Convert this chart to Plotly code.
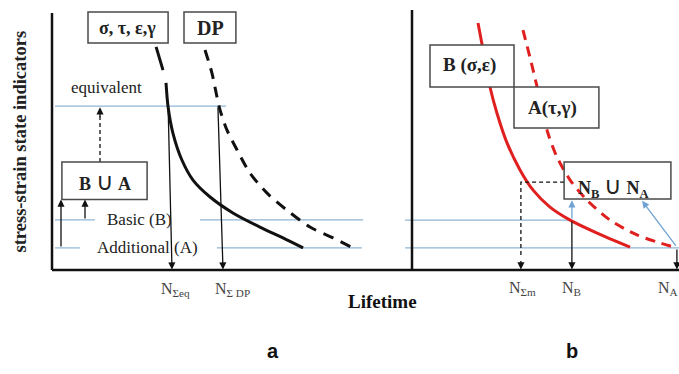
import plotly.graph_objects as go

W, H = 679, 374

# ---------------- data (schematic units) ----------------
# Panel a: equivalent stress-strain indicator (solid) and DP (dashed)
a_solid_top_x = [3.47, 3.70]
a_solid_top_y = [8.68, 7.78]
a_solid_x = [3.80, 3.87, 4.03, 4.33, 4.70, 5.27, 6.03, 6.93, 7.70, 8.37]
a_solid_y = [7.28, 6.34, 5.33, 4.28, 3.50, 2.84, 2.22, 1.67, 1.25, 0.86]
a_dash_x = [5.10, 5.33, 5.50, 5.60, 5.83, 6.17, 6.60, 7.17, 7.83, 8.60, 9.37, 10.03]
a_dash_y = [8.56, 7.67, 6.73, 6.23, 5.45, 4.67, 3.77, 2.99, 2.33, 1.67, 1.25, 0.86]
a_levels = {"equivalent": 6.38, "basic": 1.95, "additional": 0.86}
a_tick_x = [4.1, 6.0]
a_tick_text = ["N<sub>Σeq</sub>", "N<sub>Σ DP</sub>"]

# Panel b: basic (solid red) and additional (dashed red)
b_solid_x = [2.20, 2.37, 2.60, 2.83, 3.17, 3.60, 4.03, 4.60, 5.27, 6.17, 7.27]
b_solid_y = [9.50, 8.46, 7.04, 6.04, 4.88, 3.85, 3.08, 2.42, 1.92, 1.42, 0.88]
b_dash_x = [3.70, 3.93, 4.17, 4.53, 4.83, 5.27, 5.83, 6.60, 7.50, 8.27, 8.83]
b_dash_y = [9.23, 8.19, 7.04, 5.27, 4.35, 3.46, 2.69, 1.92, 1.35, 1.04, 0.85]
b_levels = {"basic": 1.92, "additional": 0.85, "mixed": 3.38}
b_tick_x = [3.67, 5.33, 8.52]
b_tick_text = ["N<sub>Σm</sub>", "N<sub>B</sub>", "N<sub>A</sub>"]

# ---------------- styles ----------------
BLK = "#111111"
RED = "#e0201f"
BLUE = "#8fb5d6"
ABLUE = "#6fa3d3"
BOXC = "#4a4a4a"
SERIF = "Liberation Serif, Times New Roman, serif"
TXT = "#222222"

fig = go.Figure()

def line(x, y, color=BLK, width=2.5, dash=None, xa="x", ya="y", shape="linear"):
    fig.add_trace(go.Scatter(x=x, y=y, mode="lines", xaxis=xa, yaxis=ya,
                             line=dict(color=color, width=width, dash=dash, shape=shape,
                                       smoothing=0.8),
                             hoverinfo="skip", showlegend=False))

def arrow(x0, y0, x1, y1, color=BLK, width=1.3, xr="x", yr="y"):
    fig.add_annotation(x=x1, y=y1, ax=x0, ay=y0, xref=xr, yref=yr, axref=xr, ayref=yr,
                       text="", showarrow=True, arrowhead=2, arrowsize=1.1,
                       arrowwidth=width, arrowcolor=color)

def box(x0, x1, y0, y1, xr="x", yr="y", fill="white"):
    fig.add_shape(type="rect", x0=x0, x1=x1, y0=y0, y1=y1, xref=xr, yref=yr,
                  line=dict(color=BOXC, width=1.5), fillcolor=fill, layer="above")

def text(x, y, s, size=15, xr="x", yr="y", color=TXT, family=SERIF, angle=0):
    fig.add_annotation(x=x, y=y, xref=xr, yref=yr, text=s, showarrow=False,
                       textangle=angle, font=dict(family=family, size=size, color=color))

# ---------------- panel a ----------------
# blue levels
line([0.1, 5.8], [a_levels["equivalent"]] * 2, BLUE, 1.2)
line([0.1, 1.43], [a_levels["basic"]] * 2, BLUE, 1.2)
line([4.93, 10.37], [a_levels["basic"]] * 2, BLUE, 1.2)
line([0.1, 0.93], [a_levels["additional"]] * 2, BLUE, 1.2)
line([5.5, 10.33], [a_levels["additional"]] * 2, BLUE, 1.2)
# curves
line(a_solid_top_x, a_solid_top_y, BLK, 3)
line(a_solid_x, a_solid_y, BLK, 3, shape="spline")
line(a_dash_x, a_dash_y, BLK, 3, dash="11px,8px", shape="spline")
# axes
line([0, 0], [0, 10], BLK, 2.5)
line([0, 12], [0, 0], BLK, 2.5)
# dashed arrow to equivalent
line([1.6, 1.6], [4.2, 6.0], BLK, 1.3, dash="4px,3px")
arrow(1.6, 5.9, 1.6, a_levels["equivalent"] - 0.05)
# arrows up to union box
arrow(0.3, a_levels["additional"], 0.3, 2.74)
arrow(1.1, a_levels["basic"], 1.1, 2.74)
# lifetime arrows
arrow(3.87, a_levels["equivalent"], 4.0, 0.02)
arrow(5.53, a_levels["equivalent"], 5.70, 0.02)
# boxes
box(1.2, 3.87, 8.83, 10.04)
box(4.4, 6.13, 8.83, 10.04)
box(0.33, 3.17, 2.74, 4.2)
text(2.53, 9.42, "<b>σ, τ, ε,γ</b>", 18)
text(5.27, 9.42, "<b>DP</b>", 20)
text(1.77, 3.42, "<b>B</b> <span style='font-size:24px'>∪</span> <b>A</b>", 18)
text(1.8, 7.12, "equivalent", 17)
text(2.93, a_levels["basic"], "Basic (B)", 17)
text(3.17, a_levels["additional"], "Additional (A)", 17)
for xv, s in zip(a_tick_x, a_tick_text):
    text(xv, -0.74, s, 16, color="#444444")
text(-1.05, 4.98, "<b>stress-strain state indicators</b>", 18.5, angle=-90)

# ---------------- panel b ----------------
line([-0.23, 5.27], [b_levels["basic"]] * 2, BLUE, 1.2, xa="x2", ya="y2")
line([-0.23, 8.9], [b_levels["additional"]] * 2, BLUE, 1.2, xa="x2", ya="y2")
line(b_solid_x, b_solid_y, RED, 3, xa="x2", ya="y2", shape="spline")
line(b_dash_x, b_dash_y, RED, 3, dash="10px,7px", xa="x2", ya="y2", shape="spline")
line([0, 0], [0, 10], BLK, 2.5, xa="x2", ya="y2")
line([0, 8.9], [0, 0], BLK, 2.5, xa="x2", ya="y2")
# dashed lifetime
line([5.07, 3.63, 3.63], [b_levels["mixed"], b_levels["mixed"], 0.5], BLK, 1.3,
     dash="4px,3px", xa="x2", ya="y2")
arrow(3.63, 0.4, 3.63, 0.02, xr="x2", yr="y2")
arrow(5.33, b_levels["basic"], 5.33, 0.02, xr="x2", yr="y2")
arrow(8.83, b_levels["additional"], 8.83, 0.02, xr="x2", yr="y2")
arrow(5.33, b_levels["basic"], 5.33, 2.68, color=ABLUE, xr="x2", yr="y2")
arrow(8.83, 0.88, 7.67, 2.66, color=ABLUE, xr="x2", yr="y2")
box(0.6, 3.4, 7.04, 8.65, "x2", "y2")
box(3.4, 6.23, 5.46, 7.04, "x2", "y2")
box(5.07, 8.63, 2.73, 4.15, "x2", "y2", fill="rgba(0,0,0,0)")
text(1.93, 7.88, "<b>B (σ,ε)</b>", 19, "x2", "y2")
text(4.67, 6.23, "<b>A(τ,γ)</b>", 19, "x2", "y2")
text(6.7, 3.2, "<b>N<sub>B</sub></b> <span style='font-size:24px'>∪</span> <b>N<sub>A</sub></b>",
     18, "x2", "y2")
for xv, s in zip(b_tick_x, b_tick_text):
    text(xv, -0.73, s, 16, "x2", "y2", color="#444444")
text(-0.95, 5.58, "<b>stress-strain state indicators</b>", 18.5, "x2", "y2", angle=-90)

# ---------------- shared labels ----------------
text(382 / W, 1 - 314 / H, "<b>Lifetime</b>", 19, "paper", "paper", color=BLK)
text(273 / W, 1 - 364 / H, "<b>a</b>", 20, "paper", "paper", color=BLK,
     family="Liberation Sans, Arial, sans-serif")
text(580 / W, 1 - 364 / H, "<b>b</b>", 20, "paper", "paper", color=BLK,
     family="Liberation Sans, Arial, sans-serif")

ax_common = dict(visible=False, showgrid=False, zeroline=False, fixedrange=True)
fig.update_layout(
    width=W, height=H, margin=dict(l=0, r=0, t=0, b=0),
    paper_bgcolor="white", plot_bgcolor="rgba(0,0,0,0)",
    xaxis=dict(domain=[0, 412 / W], range=[-52 / 30, 12], **ax_common),
    yaxis=dict(domain=[0, 1], range=[-4.047, 10.506], **ax_common),
    xaxis2=dict(domain=[400 / W, 1], range=[-0.4, 8.9], **ax_common),
    yaxis2=dict(domain=[0, 1], range=[-4.0, 10.385], anchor="x2", **ax_common),
    showlegend=False,
)
fig.update_layout(xaxis2_anchor="y2")

fig.write_html("out.html")
